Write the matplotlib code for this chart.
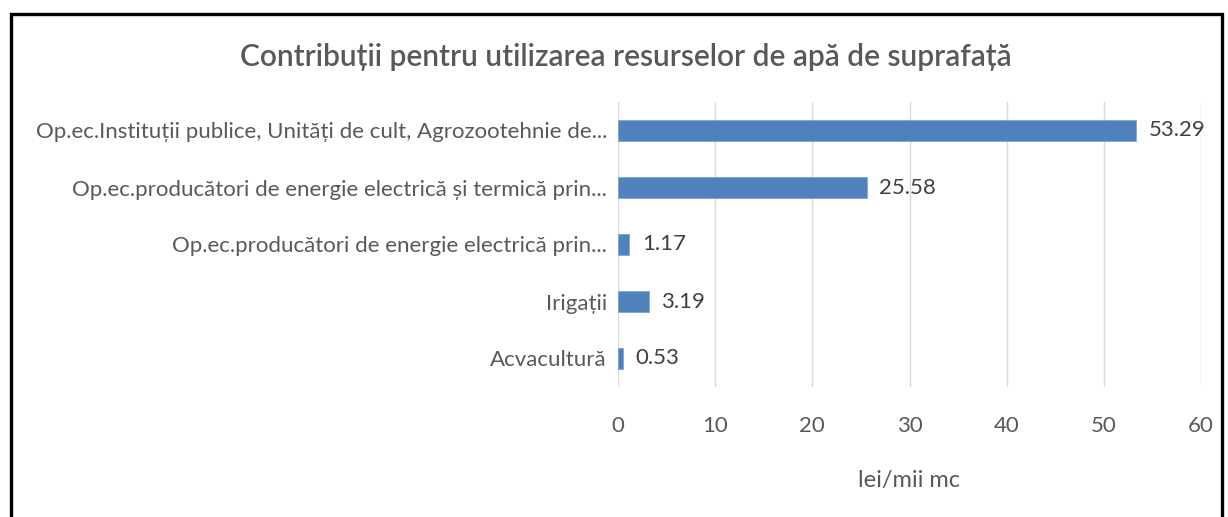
import matplotlib.pyplot as plt
from matplotlib.lines import Line2D

# Data (top to bottom as shown)
categories = [
    "Op.ec.Instituții publice, Unități de cult, Agrozootehnie de...",
    "Op.ec.producători de energie electrică și termică prin...",
    "Op.ec.producători de energie electrică prin...",
    "Irigații",
    "Acvacultură",
]
values = [53.29, 25.58, 1.17, 3.19, 0.53]
xticks = [0, 10, 20, 30, 40, 50, 60]

TEXT = "#595959"
BAR = "#4F81BD"

plt.rcParams["font.family"] = ["Lato", "DejaVu Sans"]

fig = plt.figure(figsize=(12.28, 5.17), dpi=100)
ax = fig.add_axes([618 / 1228, 1 - 387 / 517, (1201 - 618) / 1228, (387 - 102) / 517])

ypos = list(range(len(categories)))[::-1]
ax.barh(ypos, values, height=0.37, color=BAR, edgecolor="#7FA6D6", linewidth=0.6, zorder=3)

for y, v in zip(ypos, values):
    ax.annotate(f"{v:.2f}", (v, y), xytext=(9, 0), textcoords="offset points",
                va="center", ha="left", fontsize=16, color="#404040")

ax.set_xlim(0, 60)
ax.set_ylim(-0.5, len(categories) - 0.5)
ax.set_xticks(xticks)
ax.set_xticklabels([str(t) for t in xticks], fontsize=16, color=TEXT)
ax.set_yticks(ypos)
ax.set_yticklabels(categories, fontsize=16, color=TEXT)
ax.tick_params(axis="both", length=0)
ax.tick_params(axis="x", pad=21)
ax.tick_params(axis="y", pad=8)
ax.grid(axis="x", color="#D9D9D9", linewidth=1, zorder=0)
for s in ax.spines.values():
    s.set_visible(False)

ax.set_xlabel("lei/mii mc", fontsize=17, color=TEXT, labelpad=24)

fig.text(626 / 1228, 1 - 57 / 517, "Contribuții pentru utilizarea resurselor de apă de suprafață",
         ha="center", va="center", fontsize=21.5, fontweight="semibold", color=TEXT)

# Outer frame (left, top, right)
x0, x1 = 10.5 / 1228, 1221.5 / 1228
yt = 1 - 13.5 / 517
frame = Line2D([x0, x0, x1, x1], [0, yt, yt, 0], transform=fig.transFigure,
               color="black", linewidth=2.4, solid_joinstyle="miter")
fig.add_artist(frame)

fig.savefig("out.png", dpi=100, facecolor="white")
